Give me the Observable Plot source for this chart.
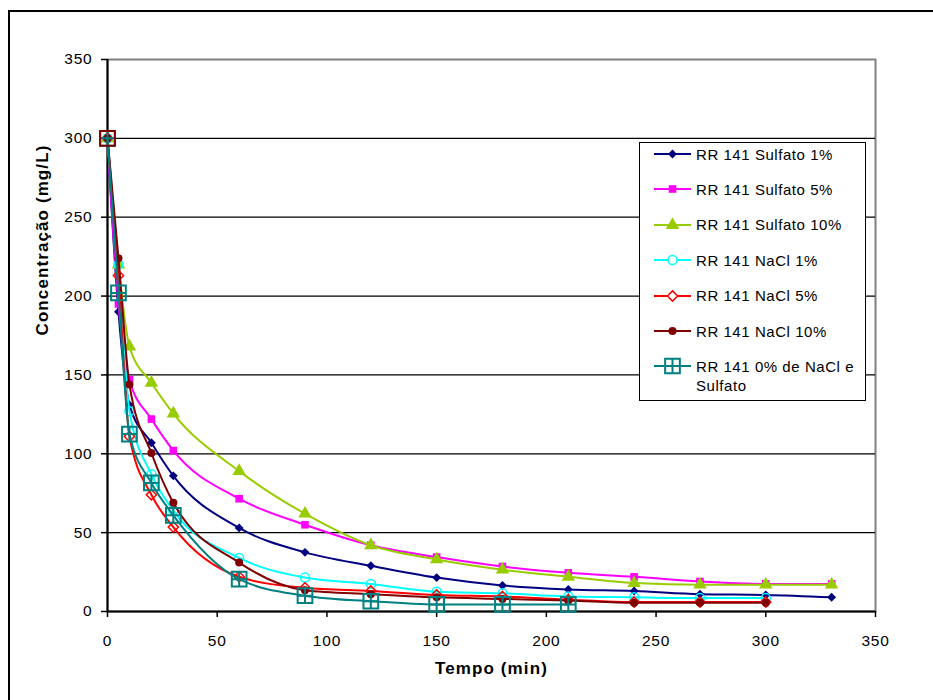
<!DOCTYPE html>
<html>
<head>
<meta charset="utf-8">
<script src="https://cdn.jsdelivr.net/npm/d3@7"></script>
<script src="https://cdn.jsdelivr.net/npm/@observablehq/plot@0.6"></script>
<style>
  html, body { margin: 0; padding: 0; background: #fff; overflow: hidden; }
  #page { position: relative; width: 933px; height: 700px; overflow: hidden; font-family: "Liberation Sans", Arial, sans-serif; }
  #outer { position: absolute; left: 8px; top: 10px; width: 1000px; height: 1000px; border: 2px solid #000; box-sizing: border-box; }
  #chart { position: absolute; left: 0; top: 0; }
  #legend { position: absolute; left: 639px; top: 142px; width: 227px; height: 259px; border: 1.5px solid #000; background: #fff; box-sizing: border-box; }
  .row-swatch { position: absolute; left: 14px; }
  .row-text { position: absolute; left: 56px; width: 165px; font-size: 15px; letter-spacing: 0.55px; line-height: 19px; color: #000; }
</style>
</head>
<body>
<div id="page">
  <div id="outer"></div>
  <div id="chart"></div>
  <div id="legend"></div>
</div>
<script>
// Sampling times (min)
const tempo = [0, 5, 10, 20, 30, 60, 90, 120, 150, 180, 210, 240, 270, 300, 330];

// Concentration (mg/L) of RR 141 for each condition
const sulfato1  = [300, 190, 131, 107, 86, 53, 37.5, 29, 21.5, 16.5, 14, 13, 11, 10.5, 9];
const sulfato5  = [300, 195, 147, 122, 102, 71.5, 55, 42, 34.5, 28.5, 24.5, 22, 19, 17.5, 17.5];
const sulfato10 = [300, 220, 168, 145, 125.5, 89, 62, 42, 33, 26.5, 22, 18, 17, 17, 17];
const nacl1     = [300, 220, 127, 87, 64, 34, 21.5, 17.5, 12.5, 11.5, 9.5, 9, 8.5, 8.5];
const nacl5     = [300, 213, 111, 74, 53.5, 22, 15, 13, 10.5, 9.5, 7.5, 6, 6, 6];
const nacl10    = [300, 224, 144, 100.5, 69, 31, 13.5, 11, 9, 8, 7, 5.5, 5.5, 5.5];
const semSal    = [300, 202, 112.5, 81.5, 61, 20.5, 10, 6.5, 4.5, 4.5, 4.5];

const seriesNames = [
  "RR 141 Sulfato 1%",
  "RR 141 Sulfato 5%",
  "RR 141 Sulfato 10%",
  "RR 141 NaCl 1%",
  "RR 141 NaCl 5%",
  "RR 141 NaCl 10%",
  "RR 141 0% de NaCl e Sulfato"
];
const seriesValues = [sulfato1, sulfato5, sulfato10, nacl1, nacl5, nacl10, semSal];
const seriesColors = ["#000080", "#FF00FF", "#99CC00", "#00FFFF", "#FF0000", "#800000", "#008080"];

const xTicks = [0, 50, 100, 150, 200, 250, 300, 350];
const yTicks = [0, 50, 100, 150, 200, 250, 300, 350];

// Hollow square with a cross inside
const squareCross = {
  draw(ctx, size) {
    const h = Math.sqrt(size) / 2;
    ctx.moveTo(-h, -h); ctx.lineTo(h, -h); ctx.lineTo(h, h); ctx.lineTo(-h, h); ctx.closePath();
    ctx.moveTo(0, -h); ctx.lineTo(0, h);
    ctx.moveTo(-h, 0); ctx.lineTo(h, 0);
  }
};

// Marker style per series
const markers = [
  {symbol: d3.symbolDiamond2, r: 4, filled: true},
  {symbol: d3.symbolSquare, r: 4.3, filled: true},
  {symbol: d3.symbolTriangle, r: 5, filled: true},
  {symbol: d3.symbolCircle, r: 4.5, filled: false, sw: 1.5},
  {symbol: d3.symbolDiamond2, r: 4.6, filled: false, sw: 1.5},
  {symbol: d3.symbolCircle, r: 4, filled: true},
  {symbol: squareCross, r: 8.3, filled: false, sw: 2}
];

const series = seriesNames.map((name, k) =>
  seriesValues[k].map((v, i) => ({tempo: tempo[i], conc: v, serie: name}))
);

const seriesMarks = series.flatMap((rows, k) => {
  const m = markers[k];
  const c = seriesColors[k];
  return [
    Plot.line(rows, {x: "tempo", y: "conc", stroke: c, strokeWidth: 2, curve: "monotone-x"}),
    Plot.dot(rows, {
      x: "tempo", y: "conc", symbol: m.symbol, r: m.r,
      fill: m.filled ? c : "none",
      stroke: m.filled ? "none" : c,
      strokeWidth: m.sw || 1
    })
  ];
});

const chart = Plot.plot({
  width: 933,
  height: 700,
  marginLeft: 107,
  marginRight: 58,
  marginTop: 59,
  marginBottom: 89,
  x: {domain: [0, 350]},
  y: {domain: [0, 350]},
  style: {
    fontFamily: "'Liberation Sans', Arial, sans-serif",
    fontSize: "15.5px",
    letterSpacing: "0.8px",
    color: "#000",
    background: "transparent",
    overflow: "visible"
  },
  marks: [
    Plot.frame({stroke: "#808080", strokeWidth: 2}),
    Plot.gridY(yTicks.filter(t => t > 0 && t < 350), {stroke: "#000", strokeOpacity: 1, strokeWidth: 1.3}),
    Plot.axisY(yTicks, {tickSize: 6, tickPadding: 9, label: null, strokeWidth: 1.5}),
    Plot.axisX(xTicks, {tickSize: 6, tickPadding: 17, label: null, strokeWidth: 1.5}),
    Plot.ruleX([0], {stroke: "#000", strokeWidth: 2}),
    Plot.ruleY([0], {stroke: "#000", strokeWidth: 2}),
    ...seriesMarks,
    // first reading of the reference series is outlined in dark red
    Plot.dot(series[6].slice(0, 1), {x: "tempo", y: "conc", symbol: "square", r: 8.3, fill: "none", stroke: "#800000", strokeWidth: 2}),
    Plot.text(["Tempo (min)"], {text: d => d, frameAnchor: "bottom", dy: 62, fontWeight: "bold", fontSize: 17}),
    Plot.text(["Concentração (mg/L)"], {text: d => d, frameAnchor: "left", dx: -65, rotate: -90, fontWeight: "bold", fontSize: 17})
  ]
});
d3.select(chart).selectAll('g[aria-label="text"] text').style("letter-spacing", "1.1px");
document.getElementById("chart").appendChild(chart);

// Legend
const legend = d3.select("#legend");
seriesNames.forEach((name, k) => {
  const cy = 11 + k * 35.4;
  const m = markers[k];
  const c = seriesColors[k];
  const svg = legend.append("svg")
    .attr("class", "row-swatch")
    .attr("width", 40).attr("height", 22)
    .style("top", (cy - 11) + "px");
  svg.append("line").attr("x1", 0).attr("x2", 37).attr("y1", 11).attr("y2", 11)
    .attr("stroke", c).attr("stroke-width", 2);
  svg.append("path")
    .attr("transform", "translate(18.5,11)")
    .attr("d", d3.symbol(m.symbol, Math.PI * m.r * m.r)())
    .attr("fill", m.filled ? c : "#fff")
    .attr("stroke", m.filled ? "none" : c)
    .attr("stroke-width", m.sw || 1);
  legend.append("div")
    .attr("class", "row-text")
    .style("top", (cy - 9.5) + "px")
    .text(name);
});
</script>
</body>
</html>
